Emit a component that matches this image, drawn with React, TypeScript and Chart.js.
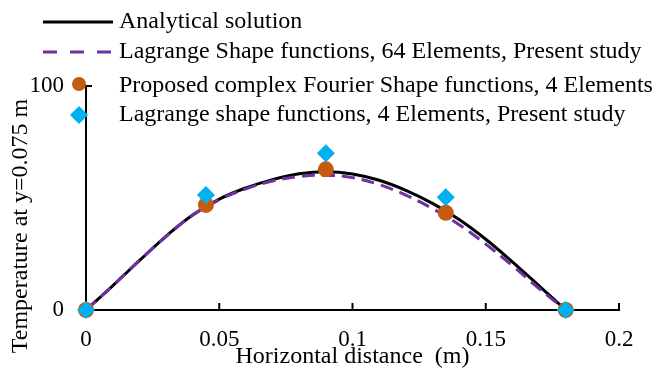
import React, { useEffect, useRef } from 'react';
import { Chart, registerables } from 'chart.js';

Chart.register(...registerables);

const X_TICKS = [0, 0.05, 0.1, 0.15, 0.2];
const X_TICK_LABELS = ['0', '0.05', '0.1', '0.15', '0.2'];
const Y_TICKS = [0, 100];
const Y_TICK_LABELS = ['0', '100'];

const CURVE_X = [0, 0.01, 0.02, 0.03, 0.04, 0.05, 0.06, 0.07, 0.08, 0.09, 0.1, 0.11, 0.12, 0.13, 0.14, 0.15, 0.16, 0.17, 0.18];
const ANALYTICAL = [0, 10.8, 22, 32.9, 42.4, 49.5, 54.5, 58.2, 60.8, 61.7, 60.7, 57.9, 53.4, 47.6, 40.4, 31.6, 21.5, 10.8, 0];
const LAGRANGE_64 = [0, 10.8, 22, 32.8, 42.3, 49.2, 54.1, 57.6, 59.6, 60.2, 59.1, 56, 51.3, 45.3, 38.1, 29.4, 19.8, 9.6, 0];

const NODE_X = [0, 0.045, 0.09, 0.135, 0.18];
const FOURIER_4 = [0, 46.9, 62.8, 43.4, 0];
const LAGRANGE_4 = [0, 51.3, 70.0, 50.3, 0];

const SERIES_LABELS = [
  'Analytical solution',
  'Lagrange Shape functions, 64 Elements, Present study',
  'Proposed complex Fourier Shape functions, 4 Elements',
  'Lagrange shape functions, 4 Elements, Present study',
];
const X_TITLE = 'Horizontal distance  (m)';
const Y_TITLE = 'Temperature at y=0.075 m';

const FONT = "'Liberation Serif', 'DejaVu Serif', serif";
const PURPLE = '#7030A0';
const ORANGE = '#C55A11';
const BLUE = '#00B0F0';

const pts = (xs: number[], ys: number[]) => xs.map((x, i) => ({ x, y: ys[i] }));

const LEGEND_ROWS = [22, 52, 86, 115];

function drawDiamond(ctx: CanvasRenderingContext2D, x: number, y: number, r: number) {
  ctx.beginPath();
  ctx.moveTo(x, y - r);
  ctx.lineTo(x + r, y);
  ctx.lineTo(x, y + r);
  ctx.lineTo(x - r, y);
  ctx.closePath();
  ctx.fill();
}

const decorPlugin = {
  id: 'decor',
  beforeDatasetsDraw(chart: any) {
    const { ctx, scales } = chart;
    const x = scales.x;
    const y = scales.y;
    ctx.save();
    ctx.strokeStyle = '#000';
    ctx.lineWidth = 2;
    X_TICKS.forEach((v) => {
      if (v === 0) return;
      const px = x.getPixelForValue(v);
      ctx.beginPath();
      ctx.moveTo(px, y.bottom);
      ctx.lineTo(px, y.bottom - 7);
      ctx.stroke();
    });
    Y_TICKS.forEach((v) => {
      if (v === 0) return;
      const py = y.getPixelForValue(v);
      ctx.beginPath();
      ctx.moveTo(x.left - 1, py);
      ctx.lineTo(x.left + 6, py);
      ctx.stroke();
    });
    ctx.restore();
  },
  afterDraw(chart: any) {
    const { ctx, scales } = chart;
    const x = scales.x;
    ctx.save();
    ctx.fillStyle = '#000';
    ctx.font = `24px ${FONT}`;
    ctx.textBaseline = 'middle';
    chart.data.datasets.forEach((ds: any, i: number) => {
      const ry = LEGEND_ROWS[i];
      if (ds.showLine) {
        ctx.save();
        ctx.strokeStyle = ds.borderColor;
        ctx.lineWidth = ds.borderWidth;
        ctx.setLineDash(ds.borderDash ? [14, 13] : []);
        ctx.beginPath();
        ctx.moveTo(43, ry);
        ctx.lineTo(113, ry);
        ctx.stroke();
        ctx.restore();
      } else {
        ctx.save();
        ctx.fillStyle = ds.backgroundColor;
        if (ds.pointStyle === 'rectRot') {
          drawDiamond(ctx, 79, ry, ds.pointRadius);
        } else {
          ctx.beginPath();
          ctx.arc(79, ry - 2, 7, 0, Math.PI * 2);
          ctx.fill();
        }
        ctx.restore();
      }
      ctx.textAlign = 'left';
      ctx.fillText(ds.label, 119, ry);
    });
    ctx.textAlign = 'center';
    ctx.fillText(X_TITLE, (x.left + x.right) / 2, 357);
    ctx.save();
    ctx.translate(21, 226);
    ctx.rotate(-Math.PI / 2);
    ctx.fillText(Y_TITLE, 0, 0);
    ctx.restore();
    ctx.restore();
  },
};

export default function App() {
  const ref = useRef<HTMLCanvasElement | null>(null);
  useEffect(() => {
    if (!ref.current) return;
    Chart.defaults.font.family = FONT;
    Chart.defaults.color = '#000';
    const chart = new Chart(ref.current, {
      type: 'scatter',
      data: {
        datasets: [
          {
            label: SERIES_LABELS[0],
            data: pts(CURVE_X, ANALYTICAL),
            showLine: true,
            borderColor: '#000',
            backgroundColor: '#000',
            borderWidth: 3,
            pointRadius: 0,
            tension: 0.4,
            clip: false,
            order: 4,
          },
          {
            label: SERIES_LABELS[1],
            data: pts(CURVE_X, LAGRANGE_64),
            showLine: true,
            borderColor: PURPLE,
            backgroundColor: PURPLE,
            borderWidth: 3,
            borderDash: [13, 7],
            pointRadius: 0,
            tension: 0.4,
            clip: false,
            order: 3,
          },
          {
            label: SERIES_LABELS[2],
            data: pts(NODE_X, FOURIER_4),
            showLine: false,
            backgroundColor: ORANGE,
            borderColor: ORANGE,
            borderWidth: 0,
            pointStyle: 'circle',
            pointRadius: 8,
            clip: false,
            order: 2,
          },
          {
            label: SERIES_LABELS[3],
            data: pts(NODE_X, LAGRANGE_4),
            showLine: false,
            backgroundColor: BLUE,
            borderColor: BLUE,
            borderWidth: 0,
            pointStyle: 'rectRot',
            pointRadius: 9,
            clip: false,
            order: 1,
          },
        ],
      } as any,
      options: {
        responsive: false,
        animation: false,
        layout: { padding: { top: 86, right: 35, left: 0, bottom: 0 } },
        plugins: { legend: { display: false }, tooltip: { enabled: false } },
        scales: {
          x: {
            type: 'linear',
            min: 0,
            max: 0.2,
            grid: { display: false, drawTicks: false },
            border: { display: true, color: '#000', width: 2 },
            afterBuildTicks: (s: any) => {
              s.ticks = X_TICKS.map((v) => ({ value: v }));
            },
            afterFit: (s: any) => {
              s.height = 62;
            },
            ticks: {
              padding: 16,
              font: { size: 23, family: FONT },
              color: '#000',
              callback: (_v: any, i: number) => X_TICK_LABELS[i],
            },
          },
          y: {
            type: 'linear',
            min: 0,
            max: 100,
            grid: { display: false, drawTicks: false },
            border: { display: true, color: '#000', width: 2 },
            afterBuildTicks: (s: any) => {
              s.ticks = Y_TICKS.map((v) => ({ value: v }));
            },
            afterFit: (s: any) => {
              s.width = 86;
            },
            ticks: {
              padding: 22,
              font: { size: 23, family: FONT },
              color: '#000',
              callback: (_v: any, i: number) => Y_TICK_LABELS[i],
            },
          },
        },
      } as any,
      plugins: [decorPlugin],
    });
    return () => chart.destroy();
  }, []);
  return (
    <div style={{ position: 'fixed', left: 0, top: 0, width: 654, height: 372, background: '#fff' }}>
      <canvas ref={ref} width={654} height={372} style={{ display: 'block' }} />
    </div>
  );
}
